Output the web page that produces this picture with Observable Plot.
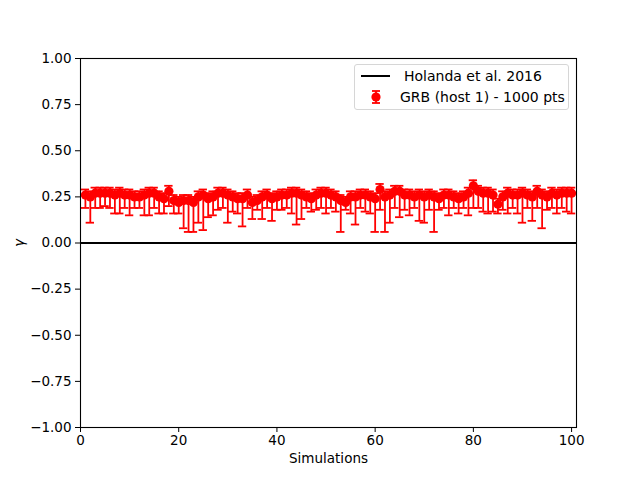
<!DOCTYPE html>
<html>
<head>
<meta charset="utf-8">
<script src="https://cdn.jsdelivr.net/npm/d3@7"></script>
<script src="https://cdn.jsdelivr.net/npm/@observablehq/plot@0.6"></script>
<style>
  body { margin: 0; background: #fff; font-family: "DejaVu Sans", sans-serif; }
  #wrap { position: relative; width: 640px; height: 480px; }
  #legend { position: absolute; left: 354px; top: 64px; width: 213px; height: 44px;
    border: 1px solid #d6d6d6; border-radius: 3px; background: rgba(255,255,255,0.8);
    font-size: 14px; color: #000; }
  #legend .row { position: absolute; left: 0; height: 20px; display: flex; align-items: center; }
  #legend svg { display: block; }
  svg [aria-label="y-axis label"] text { font-style: italic; }
</style>
</head>
<body>
<div id="wrap"></div>
<script>
const simulations = d3.range(1, 101);
const gamma = [
  0.26,0.25,0.27,0.27,0.27,0.27,0.26,0.27,0.26,0.26,
  0.25,0.25,0.26,0.27,0.27,0.25,0.24,0.28,0.23,0.22,
  0.23,0.23,0.22,0.25,0.26,0.24,0.25,0.27,0.27,0.26,
  0.25,0.24,0.24,0.26,0.22,0.23,0.25,0.26,0.24,0.25,
  0.26,0.26,0.27,0.27,0.26,0.25,0.24,0.26,0.27,0.27,
  0.26,0.25,0.23,0.22,0.25,0.25,0.26,0.26,0.25,0.24,
  0.29,0.25,0.26,0.28,0.28,0.26,0.26,0.25,0.26,0.25,
  0.26,0.25,0.24,0.26,0.26,0.25,0.24,0.25,0.27,0.31,
  0.28,0.27,0.27,0.26,0.21,0.25,0.27,0.26,0.26,0.27,
  0.26,0.25,0.28,0.26,0.25,0.27,0.26,0.27,0.27,0.27
];
const lower = [
  0.19,0.11,0.19,0.19,0.20,0.19,0.16,0.16,0.19,0.15,
  0.19,0.19,0.15,0.15,0.19,0.16,0.16,0.20,0.16,0.16,
  0.08,0.06,0.06,0.11,0.07,0.14,0.15,0.18,0.19,0.11,
  0.17,0.16,0.09,0.19,0.13,0.18,0.13,0.19,0.12,0.18,
  0.18,0.19,0.16,0.10,0.13,0.19,0.17,0.18,0.19,0.16,
  0.19,0.17,0.06,0.18,0.16,0.10,0.19,0.17,0.16,0.06,
  0.18,0.06,0.11,0.19,0.14,0.18,0.15,0.19,0.12,0.11,
  0.18,0.06,0.18,0.19,0.15,0.19,0.16,0.19,0.15,0.19,
  0.19,0.17,0.16,0.17,0.16,0.18,0.16,0.19,0.16,0.11,
  0.19,0.12,0.19,0.08,0.18,0.19,0.16,0.19,0.17,0.16
];
const upperErr = [
  0.03,0.03,0.03,0.03,0.03,0.03,0.03,0.03,0.03,0.03,
  0.03,0.03,0.03,0.03,0.03,0.03,0.03,0.03,0.03,0.03,
  0.03,0.03,0.03,0.03,0.03,0.03,0.03,0.03,0.03,0.03,
  0.03,0.03,0.03,0.03,0.03,0.03,0.03,0.03,0.03,0.03,
  0.03,0.03,0.03,0.03,0.03,0.03,0.03,0.03,0.03,0.03,
  0.03,0.03,0.03,0.03,0.03,0.03,0.03,0.03,0.03,0.03,
  0.03,0.03,0.03,0.03,0.03,0.03,0.03,0.03,0.03,0.03,
  0.03,0.03,0.03,0.03,0.03,0.03,0.03,0.03,0.03,0.03,
  0.03,0.03,0.03,0.03,0.03,0.03,0.03,0.03,0.03,0.03,
  0.03,0.03,0.03,0.03,0.03,0.03,0.03,0.03,0.03,0.03
];
const holanda = [0];
const yTicks = [-1, -0.75, -0.5, -0.25, 0, 0.25, 0.5, 0.75, 1];
const xTicks = [0, 20, 40, 60, 80, 100];

const data = simulations.map((s, i) => ({x: s, y: gamma[i], lo: lower[i], hi: gamma[i] + upperErr[i]}));
const red = "#ff0000";
const cap = 0.85;

const chart = Plot.plot({
  width: 640,
  height: 480,
  marginLeft: 80,
  marginRight: 64,
  marginTop: 58,
  marginBottom: 53,
  style: {fontFamily: "DejaVu Sans, sans-serif", fontSize: "13.5px", color: "#000", background: "#fff"},
  x: {domain: [0, 101]},
  y: {domain: [-1, 1]},
  marks: [
    Plot.ruleY(holanda, {y: d => d, stroke: "#000", strokeWidth: 2}),
    Plot.ruleX(data, {x: "x", y1: "lo", y2: "hi", stroke: red, strokeWidth: 1.8}),
    Plot.ruleY(data, {y: "lo", x1: d => d.x - cap, x2: d => d.x + cap, stroke: red, strokeWidth: 1.8}),
    Plot.ruleY(data, {y: "hi", x1: d => d.x - cap, x2: d => d.x + cap, stroke: red, strokeWidth: 1.8}),
    Plot.dot(data, {x: "x", y: "y", r: 4.6, fill: red, stroke: "none"}),
    Plot.frame({stroke: "#000", strokeWidth: 1.1}),
    Plot.axisX({ticks: xTicks, tickFormat: d3.format("d"), tickSize: 5, tickPadding: 3, fontSize: 13.5,
      label: "Simulations", labelAnchor: "center", labelArrow: "none", labelOffset: 35}),
    Plot.axisY({ticks: yTicks, tickFormat: d3.format(".2f"), tickSize: 5, tickPadding: 4, fontSize: 13.5,
      label: "γ", labelAnchor: "center", labelArrow: "none", labelOffset: 66})
  ]
});
const wrap = document.getElementById("wrap");
wrap.appendChild(chart);

const legend = document.createElement("div");
legend.id = "legend";
legend.innerHTML = `
  <div class="row" style="top:1px">
    <svg width="50" height="20" style="margin-left:5px"><line x1="1" x2="30" y1="10" y2="10" stroke="#000" stroke-width="2"/></svg>
    <span style="margin-left:-6px">Holanda et al. 2016</span>
  </div>
  <div class="row" style="top:22px">
    <svg width="45" height="20" style="margin-left:5px">
      <line x1="16" x2="16" y1="4" y2="16" stroke="${red}" stroke-width="1.8"/>
      <line x1="12" x2="20" y1="4" y2="4" stroke="${red}" stroke-width="1.8"/>
      <line x1="12" x2="20" y1="16" y2="16" stroke="${red}" stroke-width="1.8"/>
      <circle cx="16" cy="10" r="4.6" fill="${red}"/>
    </svg>
    <span style="margin-left:-5px">GRB (host 1) - 1000 pts</span>
  </div>`;
wrap.appendChild(legend);
</script>
</body>
</html>
